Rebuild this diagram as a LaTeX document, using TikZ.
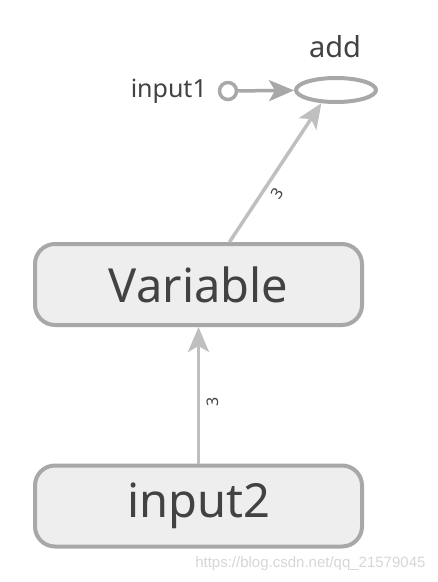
\documentclass[tikz,border=0pt]{standalone}
\usepackage{fontspec}
\setmainfont{Noto Sans}
\newfontfamily\wmfont{Liberation Sans}
\usetikzlibrary{arrows.meta,shapes.geometric}
\definecolor{txt}{HTML}{424242}
\definecolor{bord}{HTML}{A8A8A8}
\definecolor{boxfill}{HTML}{EEEEEE}
\definecolor{edgec}{HTML}{BFBFBF}
\definecolor{wm}{HTML}{D6D6D6}
\tikzset{
  opbox/.style={draw=bord, fill=boxfill, line width=4pt, rounded corners=20pt,
    minimum width=327pt, minimum height=81pt, inner sep=0pt, text=txt,
    font=\fontsize{47}{52}\selectfont},
  opell/.style={ellipse, draw=bord, fill=white, line width=4pt,
    minimum width=80pt, minimum height=24pt, inner sep=0pt},
  incirc/.style={circle, draw=bord, fill=white, line width=3.5pt,
    minimum size=17pt, inner sep=0pt},
  lbl/.style={text=txt, inner sep=0pt},
  flow/.style={draw=edgec, line width=3.5pt,
    -{Stealth[length=25pt, width=21pt, inset=6pt]}},
  cnt/.style={text=txt, font=\fontsize{16}{18}\selectfont, sloped, inner sep=2pt}
}
\begin{document}
\begin{tikzpicture}[x=1pt,y=1pt]
\useasboundingbox (0,0) rectangle (438,-582);
\node[opbox] (var) at (198.5,-284.5) {Variable};
\node[opbox] (in2) at (198.5,-506) {input2};
\node[opell] (add) at (336,-90) {};
\node[lbl, font=\fontsize{29}{34}\selectfont, anchor=base] (addl) at (335,-57) {add};
\node[lbl, font=\fontsize{25}{30}\selectfont, anchor=east] (in1l) at (207,-91) {input1};
\node[incirc] (in1) at (228,-91) {};
\draw[flow, draw=bord] (in1) -- (add);
\draw[flow] ([xshift=31pt]var.north) -- node[cnt, pos=0.4, below=4pt] {3} (add.222);
\draw[flow] (in2.north) -- node[cnt, pos=0.45, below=5pt] {3} (var.south);
\node[text=wm, font=\wmfont\fontsize{15}{18}\selectfont, anchor=east] (wmk) at (429,-564) {https://blog.csdn.net/qq\_21579045};
\end{tikzpicture}
\end{document}
